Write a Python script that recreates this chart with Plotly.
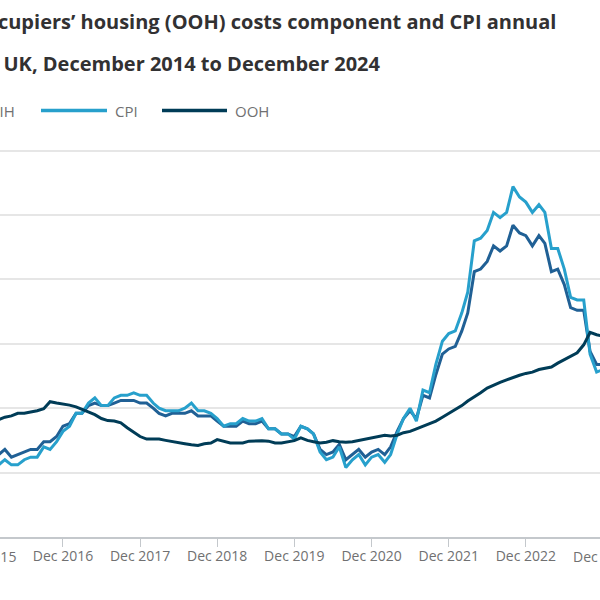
import pandas as pd
import plotly.graph_objects as go

# Monthly dates, Jan 2016 to Dec 2023 (the visible window of the chart)
months = pd.date_range("2016-01-01", "2023-12-01", freq="MS").strftime("%Y-%m-%d").tolist()

cpih = [0.6, 0.7, 0.9, 0.6, 0.7, 0.8, 0.9, 0.9, 1.2, 1.2, 1.4, 1.8,
        1.9, 2.3, 2.3, 2.6, 2.7, 2.6, 2.6, 2.7, 2.8, 2.8, 2.8, 2.7,
        2.7, 2.5, 2.3, 2.2, 2.3, 2.3, 2.3, 2.4, 2.2, 2.2, 2.2, 2.0,
        1.8, 1.8, 1.8, 2.0, 1.9, 1.9, 2.0, 1.7, 1.7, 1.5, 1.5, 1.4,
        1.8, 1.7, 1.5, 0.9, 0.7, 0.8, 1.1, 0.5, 0.7, 0.9, 0.6, 0.8,
        0.9, 0.7, 1.0, 1.6, 2.1, 2.4, 2.1, 3.0, 2.9, 3.8, 4.6, 4.8,
        4.9, 5.5, 6.2, 7.8, 7.9, 8.2, 8.8, 8.6, 8.8, 9.6, 9.3, 9.2,
        8.8, 9.2, 8.9, 7.8, 7.9, 7.3, 6.4, 6.3, 6.3, 4.7, 4.2, 4.2]

cpi = [0.3, 0.3, 0.5, 0.3, 0.3, 0.5, 0.6, 0.6, 1.0, 0.9, 1.2, 1.6,
       1.8, 2.3, 2.3, 2.7, 2.9, 2.6, 2.6, 2.9, 3.0, 3.0, 3.1, 3.0,
       3.0, 2.7, 2.5, 2.4, 2.4, 2.4, 2.5, 2.7, 2.4, 2.4, 2.3, 2.1,
       1.8, 1.9, 1.9, 2.1, 2.0, 2.0, 2.1, 1.7, 1.7, 1.5, 1.5, 1.3,
       1.8, 1.7, 1.5, 0.8, 0.5, 0.6, 1.0, 0.2, 0.5, 0.7, 0.3, 0.6,
       0.7, 0.4, 0.7, 1.5, 2.1, 2.5, 2.0, 3.2, 3.1, 4.2, 5.1, 5.4,
       5.5, 6.2, 7.0, 9.0, 9.1, 9.4, 10.1, 9.9, 10.1, 11.1, 10.7, 10.5,
       10.1, 10.4, 10.1, 8.7, 8.7, 7.9, 6.8, 6.7, 6.7, 4.6, 3.9, 4.0]

ooh = [2.0, 2.05, 2.15, 2.2, 2.3, 2.3, 2.35, 2.4, 2.48, 2.75, 2.7, 2.67,
       2.62, 2.55, 2.45, 2.35, 2.25, 2.1, 2.02, 2.0, 1.93, 1.74, 1.55, 1.4,
       1.3, 1.3, 1.3, 1.25, 1.2, 1.15, 1.12, 1.08, 1.05, 1.12, 1.15, 1.28,
       1.2, 1.15, 1.15, 1.15, 1.22, 1.24, 1.24, 1.22, 1.15, 1.15, 1.2, 1.24,
       1.35, 1.25, 1.2, 1.15, 1.18, 1.24, 1.2, 1.18, 1.2, 1.25, 1.32, 1.35,
       1.4, 1.45, 1.42, 1.45, 1.55, 1.6, 1.7, 1.8, 1.9, 2.0, 2.15, 2.3,
       2.45, 2.6, 2.78, 2.93, 3.1, 3.28, 3.4, 3.5, 3.6, 3.7, 3.78, 3.85,
       3.9, 4.0, 4.05, 4.1, 4.25, 4.38, 4.5, 4.65, 4.96, 5.44, 5.35, 5.3]

series_names = ["CPIH", "CPI", "OOH"]
series_colors = ["#206095", "#27a0cc", "#003c57"]
title_line1 = "Owner occupiers\u2019 housing (OOH) costs component and CPI annual"
title_line2 = "rates, UK, December 2014 to December 2024"
edge_ticks = ["2015-12-01", "2023-12-01"]

W, H = 600, 600
Y_MIN, Y_MAX = -2.5, 12.6
BOTTOM = 537
PX_PER_UNIT = 386 / 15.0
TOP = BOTTOM - (Y_MAX - Y_MIN) * PX_PER_UNIT
X_START, X_END = pd.Timestamp("2016-02-07"), pd.Timestamp("2023-11-17")


def px(x):
    return x / W


def py(y):
    return (BOTTOM - y) / (BOTTOM - TOP)


def date_paper(d):
    return (pd.Timestamp(d) - X_START) / (X_END - X_START)


fig = go.Figure()
for name, vals, col in zip(series_names, [cpih, cpi, ooh], series_colors):
    fig.add_trace(go.Scatter(x=months, y=vals, mode="lines", name=name,
                             line=dict(color=col, width=3), showlegend=False))

annotations = [
    dict(text="<b>" + title_line1 + "</b>", xref="paper", yref="paper", x=px(558), y=py(22),
         xanchor="right", yanchor="middle", showarrow=False,
         font=dict(family="Open Sans", size=20, color="#323132")),
    dict(text="<b>" + title_line2 + "</b>", xref="paper", yref="paper", x=px(383), y=py(64),
         xanchor="right", yanchor="middle", showarrow=False,
         font=dict(family="Open Sans", size=20, color="#323132")),
]
shapes = []
legend_items = [("CPIH", -94, -28, -21), ("CPI", 41, 107, 113), ("OOH", 162, 227, 233)]
for (name, x0, x1, xt), col in zip(legend_items, series_colors):
    shapes.append(dict(type="line", xref="paper", yref="paper", x0=px(x0), x1=px(x1),
                       y0=py(111), y1=py(111), line=dict(color=col, width=3.5)))
    annotations.append(dict(text=name, xref="paper", yref="paper", x=px(xt), y=py(111),
                            xanchor="left", yanchor="middle", showarrow=False,
                            font=dict(family="Open Sans", size=15, color="#707071")))

# Edge tick labels whose ticks lie just outside the visible window
for d in edge_ticks:
    annotations.append(dict(text=pd.Timestamp(d).strftime("Dec %Y"), xref="paper", yref="paper",
                            x=date_paper(d), y=py(556), xanchor="center", yanchor="middle",
                            showarrow=False,
                            font=dict(family="Open Sans", size=14, color="#707071")))

fig.update_layout(
    width=W, height=H,
    margin=dict(l=0, r=0, t=TOP, b=H - BOTTOM, pad=0),
    paper_bgcolor="white", plot_bgcolor="white",
    font=dict(family="Open Sans", color="#707071"),
    annotations=annotations, shapes=shapes,
    xaxis=dict(type="date", range=[X_START.strftime("%Y-%m-%d"), X_END.strftime("%Y-%m-%d")],
               tick0="2015-12-01", dtick="M12", tickformat="Dec %Y",
               ticks="outside", ticklen=8, tickcolor="#c4c8cc", tickwidth=1,
               ticklabelstandoff=-3,
               showline=True, linecolor="#c4c8cc", linewidth=1.5,
               showgrid=False, zeroline=False,
               tickfont=dict(family="Open Sans", size=14, color="#707071")),
    yaxis=dict(range=[Y_MIN, Y_MAX], dtick=2.5, tick0=0, showticklabels=False,
               showgrid=True, gridcolor="#e6e6e6", gridwidth=1.5, zeroline=False,
               ticks=""),
)

fig.write_html("out.html", config={"displayModeBar": False},
               post_script="document.body.style.margin='0';document.body.style.overflow='hidden';")
